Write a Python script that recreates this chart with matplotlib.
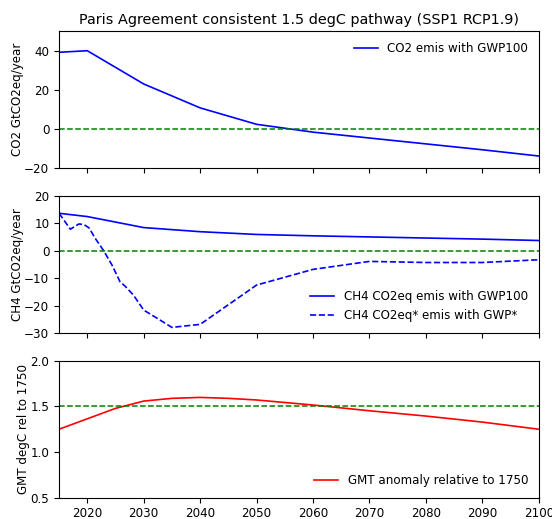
import matplotlib.pyplot as plt

# values
years = [2015, 2020, 2030, 2040, 2050, 2060, 2070, 2080, 2090, 2100]
co2_gwp100 = [39.2, 40.0, 23.0, 10.8, 2.4, -1.6, -4.6, -7.6, -10.6, -13.8]
ch4_gwp100 = [13.6, 12.4, 8.4, 6.9, 5.9, 5.4, 5.0, 4.6, 4.2, 3.7]

gwpstar_years = [2015, 2017, 2018.5, 2019.4, 2020.3, 2021.4, 2022.9, 2024.4, 2025.8,
                 2026.7, 2028.2, 2030, 2032.4, 2035, 2037.6, 2040, 2050, 2060, 2070,
                 2080, 2090, 2100]
ch4_gwpstar = [13.6, 7.8, 9.7, 9.5, 8.3, 4.5, 0.0, -5.3, -11.3,
               -12.9, -16.2, -21.6, -24.6, -27.9, -27.3, -26.8, -12.5, -6.8, -3.9,
               -4.3, -4.3, -3.3]

gmt_years = [2015, 2020, 2025, 2030, 2035, 2040, 2045, 2050, 2060, 2070, 2080, 2090, 2100]
gmt = [1.25, 1.364, 1.478, 1.558, 1.588, 1.598, 1.588, 1.57, 1.515, 1.452, 1.394, 1.328, 1.25]

plt.rcParams['font.size'] = 8.6

fig = plt.figure(figsize=(5.52, 5.19), dpi=100)
left, width = 0.107, 0.869
ax1 = fig.add_axes([left, 0.676, width, 0.264])
ax2 = fig.add_axes([left, 0.358, width, 0.265])
ax3 = fig.add_axes([left, 0.041, width, 0.264])

ax1.plot(years, co2_gwp100, 'b-', lw=1.2, label='CO2 emis with GWP100')
ax1.axhline(0, color='g', ls='--', lw=1.1)
ax1.set_ylim(-20, 50)
ax1.set_yticks([-20, 0, 20, 40])
ax1.set_ylabel('CO2 GtCO2eq/year', labelpad=0)
ax1.set_title('Paris Agreement consistent 1.5 degC pathway (SSP1 RCP1.9)', fontsize=10.4, pad=5)
ax1.legend(loc='upper right', frameon=False)

ax2.plot(years, ch4_gwp100, 'b-', lw=1.2, label='CH4 CO2eq emis with GWP100')
ax2.plot(gwpstar_years, ch4_gwpstar, 'b--', lw=1.2, label='CH4 CO2eq* emis with GWP*')
ax2.axhline(0, color='g', ls='--', lw=1.1)
ax2.set_ylim(-30, 20)
ax2.set_yticks([-30, -20, -10, 0, 10, 20])
ax2.set_ylabel('CH4 GtCO2eq/year', labelpad=0)
ax2.legend(loc='lower right', frameon=False)

ax3.plot(gmt_years, gmt, 'r-', lw=1.2, label='GMT anomaly relative to 1750')
ax3.axhline(1.5, color='g', ls='--', lw=1.1)
ax3.set_ylim(0.5, 2.0)
ax3.set_yticks([0.5, 1.0, 1.5, 2.0])
ax3.set_ylabel('GMT degC rel to 1750', labelpad=0)
ax3.legend(loc='lower right', frameon=False)

for ax in (ax1, ax2, ax3):
    ax.set_xlim(2015, 2100)
    ax.set_xticks(range(2020, 2101, 10))
for ax in (ax1, ax2):
    ax.tick_params(labelbottom=False)

fig.savefig('out.png', dpi=100)
